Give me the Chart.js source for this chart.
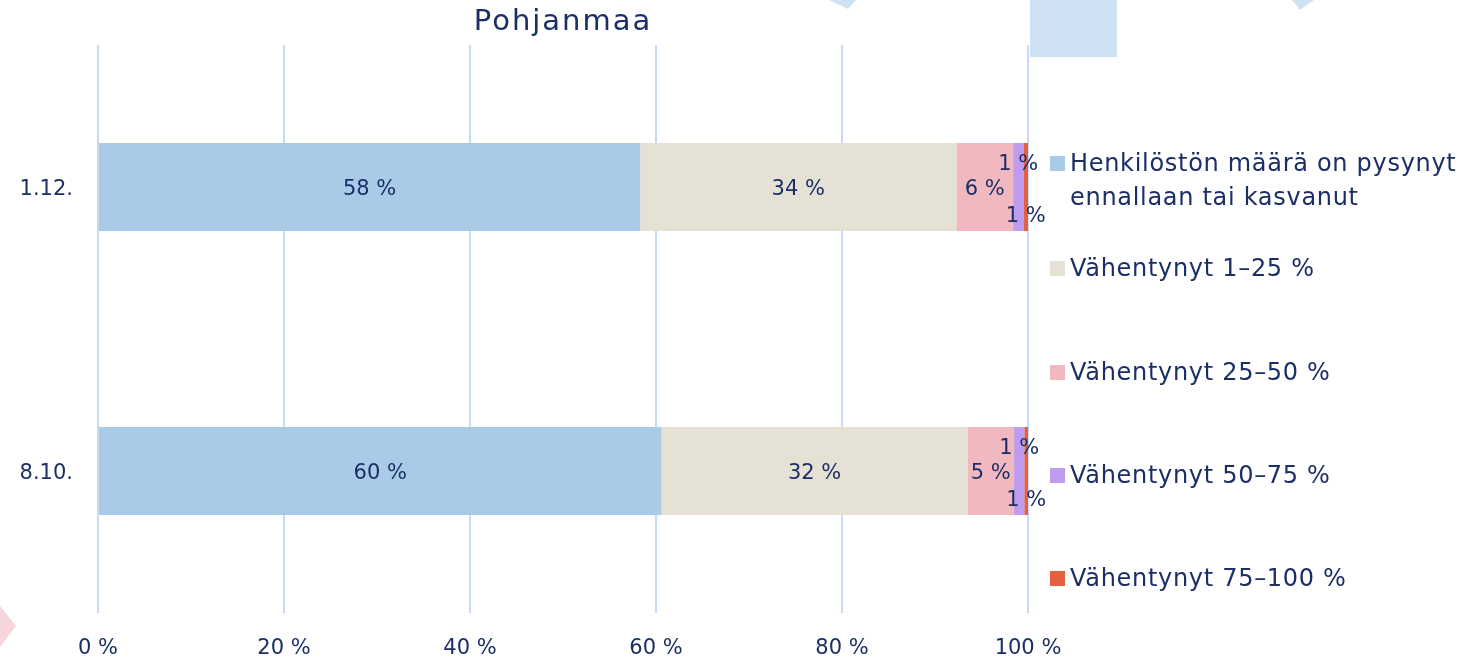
<!DOCTYPE html>
<html lang="fi">
  <head>
    <meta charset="UTF-8" />
    <title>Pohjanmaa</title>
    <script src="https://cdn.jsdelivr.net/npm/chart.js"></script>
    <style>
      body {
        margin: 0;
        background: #fff;
        font-family: "DejaVu Sans", sans-serif;
        color: #1b2f66;
      }
      .wrap {
        position: relative;
        width: 1460px;
        height: 661px;
        overflow: hidden;
      }
      canvas {
        position: absolute;
        left: 0;
        top: 0;
      }
      .item {
        position: absolute;
        left: 1050px;
        font-size: 24px;
        letter-spacing: 0.7px;
        line-height: 34px;
        white-space: nowrap;
      }
      .item span.box {
        position: absolute;
        left: 0;
        top: 10px;
        width: 15px;
        height: 15px;
      }
      .item span.txt {
        display: block;
        margin-left: 20px;
      }
    </style>
  </head>
  <body>
    <div class="wrap">
      <canvas id="chart" width="1460" height="661"></canvas>
      <div id="legend"></div>
    </div>

    <script>
      const chartTitle = "Pohjanmaa";
      const categories = ["1.12.", "8.10."];
      const seriesNames = [
        ["Henkilöstön määrä on pysynyt", "ennallaan tai kasvanut"],
        ["Vähentynyt 1–25 %"],
        ["Vähentynyt 25–50 %"],
        ["Vähentynyt 50–75 %"],
        ["Vähentynyt 75–100 %"],
      ];
      const seriesColors = ["#a9cbe8", "#e6e1d5", "#f2b8c0", "#bf9bee", "#e5603f"];
      // values (percent)
      const unchanged = [58.3, 60.6];
      const down1to25 = [34.0, 32.9];
      const down25to50 = [6.1, 5.0];
      const down50to75 = [1.1, 1.1];
      const down75to100 = [0.5, 0.4];
      // labels as printed on the bars
      const unchangedLbl = [58, 60];
      const down1to25Lbl = [34, 32];
      const down25to50Lbl = [6, 5];
      const down50to75Lbl = [1, 1];
      const down75to100Lbl = [1, 1];
      const xTicks = [0, 20, 40, 60, 80, 100];

      const values = [unchanged, down1to25, down25to50, down50to75, down75to100];
      const printed = [unchangedLbl, down1to25Lbl, down25to50Lbl, down50to75Lbl, down75to100Lbl];
      const navy = "#1b2f66";
      const font = "'DejaVu Sans', sans-serif";

      // legend built as html so the first entry can wrap on two lines
      const legendTops = [146, 251, 355, 458, 561];
      const legend = document.getElementById("legend");
      seriesNames.forEach(function (name, i) {
        const div = document.createElement("div");
        div.className = "item";
        div.style.top = legendTops[i] + "px";
        div.innerHTML =
          '<span class="box" style="background:' + seriesColors[i] + '"></span>' +
          '<span class="txt">' + name.join("<br>") + "</span>";
        legend.appendChild(div);
      });

      const backdrop = {
        id: "backdrop",
        beforeDraw(chart) {
          const ctx = chart.ctx;
          ctx.save();
          ctx.fillStyle = "#cfe2f3";
          ctx.fillRect(1030, 0, 87, 57);
          ctx.beginPath();
          ctx.moveTo(829, 0);
          ctx.lineTo(856, 0);
          ctx.lineTo(848, 9);
          ctx.closePath();
          ctx.fill();
          ctx.beginPath();
          ctx.moveTo(1292, 0);
          ctx.lineTo(1314, 0);
          ctx.lineTo(1300, 10);
          ctx.closePath();
          ctx.fill();
          ctx.fillStyle = "#f6d6dc";
          ctx.beginPath();
          ctx.moveTo(0, 606);
          ctx.lineTo(16, 626);
          ctx.lineTo(0, 647);
          ctx.closePath();
          ctx.fill();
          ctx.restore();
        },
      };

      const barLabels = {
        id: "barLabels",
        afterDatasetsDraw(chart) {
          const ctx = chart.ctx;
          ctx.save();
          ctx.fillStyle = navy;
          ctx.font = "21px " + font;
          ctx.textAlign = "center";
          ctx.textBaseline = "middle";
          chart.data.datasets.forEach(function (ds, i) {
            chart.getDatasetMeta(i).data.forEach(function (bar, j) {
              const cx = (bar.x + bar.base) / 2;
              let dy = 3;
              if (i === 3) dy = -22;
              if (i === 4) dy = 30;
              ctx.fillText(printed[i][j] + " %", cx, bar.y + dy);
            });
          });
          ctx.restore();
        },
      };

      const titleDraw = {
        id: "titleDraw",
        afterDraw(chart) {
          const a = chart.chartArea;
          const ctx = chart.ctx;
          ctx.save();
          ctx.fillStyle = navy;
          ctx.font = "29px " + font;
          ctx.letterSpacing = "2px";
          ctx.textAlign = "center";
          ctx.textBaseline = "middle";
          ctx.fillText(chartTitle, (a.left + a.right) / 2, 22);
          ctx.restore();
        },
      };

      new Chart(document.getElementById("chart"), {
        type: "bar",
        data: {
          labels: categories,
          datasets: values.map(function (v, i) {
            return {
              label: seriesNames[i].join(" "),
              data: v,
              backgroundColor: seriesColors[i],
              borderWidth: 0,
              barPercentage: 0.62,
              categoryPercentage: 0.5,
            };
          }),
        },
        options: {
          indexAxis: "y",
          responsive: false,
          animation: false,
          layout: { padding: { top: 45, right: 432, left: 0, bottom: 0 } },
          plugins: {
            legend: { display: false },
            tooltip: { enabled: false },
          },
          scales: {
            x: {
              stacked: true,
              min: 0,
              max: 100,
              afterBuildTicks(axis) {
                axis.ticks = xTicks.map(function (v) {
                  return { value: v };
                });
              },
              afterFit(axis) {
                axis.height = 48;
              },
              grid: { color: "#c8d9f8", lineWidth: 2, drawTicks: false },
              border: { display: false },
              ticks: {
                color: navy,
                font: { family: font, size: 21 },
                padding: 23,
                callback: function (v) {
                  return v + " %";
                },
              },
            },
            y: {
              stacked: true,
              afterFit(axis) {
                axis.width = 98;
              },
              grid: { display: false },
              border: { display: false },
              ticks: {
                color: navy,
                font: { family: font, size: 21 },
                padding: 17,
                labelOffset: 3,
              },
            },
          },
        },
        plugins: [backdrop, barLabels, titleDraw],
      });
    </script>
  </body>
</html>
